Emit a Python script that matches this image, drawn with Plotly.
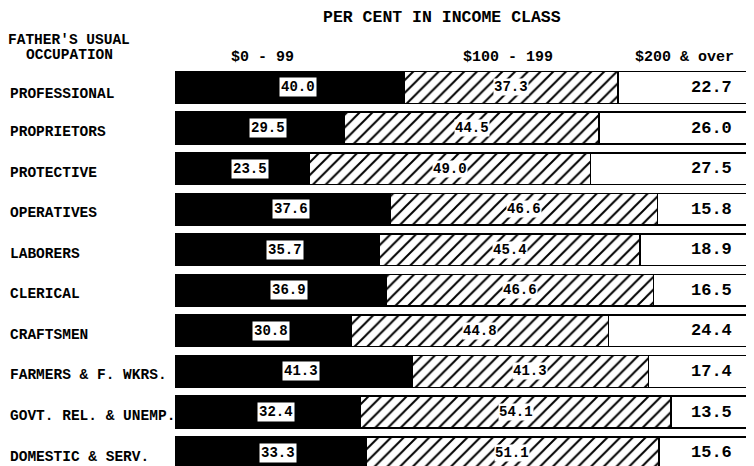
import plotly.graph_objects as go

occupations = ["PROFESSIONAL", "PROPRIETORS", "PROTECTIVE", "OPERATIVES", "LABORERS",
               "CLERICAL", "CRAFTSMEN", "FARMERS & F. WKRS.", "GOVT. REL. & UNEMP.",
               "DOMESTIC & SERV."]
low = [40.0, 29.5, 23.5, 37.6, 35.7, 36.9, 30.8, 41.3, 32.4, 33.3]
mid = [37.3, 44.5, 49.0, 46.6, 45.4, 46.6, 44.8, 41.3, 54.1, 51.1]
high = [22.7, 26.0, 27.5, 15.8, 18.9, 16.5, 24.4, 17.4, 13.5, 15.6]
class_labels = ["$0 - 99", "$100 - 199", "$200 & over"]
title_text = "PER CENT IN INCOME CLASS"
row_header = ["FATHER'S USUAL", "OCCUPATION"]

FONT = "Liberation Mono, Courier New, monospace"
OFF = 8                      # page body margin
W, H = 754 - OFF, 466 - OFF
ML, MR, MT, MB = 175 - OFF, 4, 68 - OFF, 0
PW, PH = W - ML - MR, H - MT - MB

def py(ypx):  # reference-picture pixel -> paper
    return (466 - ypx) / PH

def px(xpx):
    return (xpx - 175) / PW

fig = go.Figure()
common = dict(orientation="h", y=occupations, width=0.78, hoverinfo="skip")
fig.add_trace(go.Bar(x=low, marker=dict(color="black", line=dict(color="black", width=1.5)),
                     name=class_labels[0], **common))
fig.add_trace(go.Bar(x=mid, marker=dict(color="white", line=dict(color="black", width=1.5),
                                        pattern=dict(shape="/", fgcolor="black", bgcolor="white",
                                                     size=9, solidity=0.22, fillmode="replace")),
                     name=class_labels[1], **common))
fig.add_trace(go.Bar(x=high, marker=dict(color="white", line=dict(color="black", width=1.5)),
                     name=class_labels[2], **common))

ann = []
for i, occ in enumerate(occupations):
    a, b, c = low[i], mid[i], high[i]
    ann.append(dict(x=a / 2, y=occ, xref="x", yref="y", text=f"<b>{a:.1f}</b>", showarrow=False,
                    xanchor="center", yanchor="middle", xshift=8,
                    font=dict(family=FONT, size=14, color="black"),
                    bgcolor="white", borderpad=1))
    ann.append(dict(x=a + b / 2, y=occ, xref="x", yref="y", text=f"<b>{b:.1f}</b>", showarrow=False,
                    xanchor="center", yanchor="middle",
                    font=dict(family=FONT, size=14, color="black"), bgcolor="white", borderpad=0))
    ann.append(dict(x=a + b + c, y=occ, xref="x", yref="y", text=f"<b>{c:.1f}</b>", showarrow=False,
                    xanchor="right", yanchor="middle", xshift=-14,
                    font=dict(family=FONT, size=17, color="black")))
    ann.append(dict(x=px(8), y=occ, xref="paper", yref="y", text=f"<b>{occ}</b>", showarrow=False,
                    xanchor="left", yanchor="middle", yshift=-4 if i else -7,
                    font=dict(family=FONT, size=14.5, color="black")))

for lab, cx in zip(class_labels, [262, 508, 684]):
    ann.append(dict(x=px(cx), y=py(57), xref="paper", yref="paper", text=f"<b>{lab}</b>",
                    showarrow=False, xanchor="center", yanchor="middle",
                    font=dict(family=FONT, size=15, color="black")))
ann.append(dict(x=px(442), y=py(17), xref="paper", yref="paper", text=f"<b>{title_text}</b>",
                showarrow=False, xanchor="center", yanchor="middle",
                font=dict(family=FONT, size=16.5, color="black")))
for line, yy in zip(row_header, [40, 55]):
    ann.append(dict(x=px(69), y=py(yy), xref="paper", yref="paper", text=f"<b>{line}</b>",
                    showarrow=False, xanchor="center", yanchor="middle",
                    font=dict(family=FONT, size=14.5, color="black")))

fig.update_layout(
    width=W, height=H, barmode="stack", showlegend=False,
    margin=dict(l=ML, r=MR, t=MT, b=MB), paper_bgcolor="white", plot_bgcolor="white",
    xaxis=dict(range=[0, 100.3], visible=False),
    yaxis=dict(range=[9.33, -0.48], visible=False, type="category"),
    annotations=ann,
)
fig.write_html("out.html")
